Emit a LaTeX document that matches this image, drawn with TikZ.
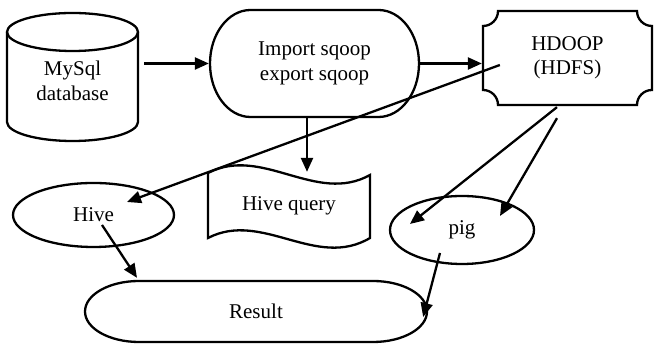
\documentclass[tikz,border=0pt]{standalone}
\usepackage{fontspec}
\setmainfont{Liberation Serif}
\usepackage{tikz}
\usetikzlibrary{shapes,arrows,arrows.meta,positioning,calc}

\begin{document}
\begin{tikzpicture}[x=1pt, y=1pt, line width=2.3pt,
    every node/.style={font=\fontsize{21}{24.5}\selectfont, align=center, inner sep=0pt},
    arr/.style={-{Triangle[length=14pt, width=12pt]}}]
    \useasboundingbox (0,0) rectangle (654,344);

    % Nodes
    \node[minimum width=131pt, minimum height=127pt] (mysql) at (72.5,263) {MySql\\database};
    \node[minimum width=209pt, minimum height=107pt] (import) at (314.5,280.5) {Import sqoop\\export sqoop};
    \node[minimum width=169pt, minimum height=94pt] (hdfs) at (567.5,286) {HDOOP\\(HDFS)};
    \node[minimum width=162pt, minimum height=65pt] (query) at (289,138.5) {Hive query};
    \node[ellipse, draw, minimum width=161pt, minimum height=64pt] (hive) at (93.5,129) {Hive};
    \node[ellipse, draw, minimum width=144pt, minimum height=68pt] (pig) at (462,114) {pig};
    \node[minimum width=342pt, minimum height=61pt] (result) at (256,32.5) {Result};

    % Outlines
    \draw (72.5,312) ellipse[x radius=65.5, y radius=19];
    \draw (7,312) -- (7,222) arc[start angle=180, end angle=360, x radius=65.5, y radius=19] -- (138,312);
    \draw (250.5,334) -- (378.5,334) arc[start angle=90, end angle=-90, x radius=40.5, y radius=53.5]
        -- (250.5,227) arc[start angle=270, end angle=90, x radius=40.5, y radius=53.5] -- cycle;
    \draw (498,333) -- (637,333) .. controls (637,324.7) and (643.7,318) .. (652,318)
        -- (652,254) .. controls (643.7,254) and (637,247.3) .. (637,239)
        -- (498,239) .. controls (498,247.3) and (491.3,254) .. (483,254)
        -- (483,318) .. controls (491.3,318) and (498,324.7) .. (498,333) -- cycle;
    \draw (208,171) .. controls (262,199) and (316,139) .. (370,169)
        -- (370,106) .. controls (316,74) and (262,134) .. (208,106) -- cycle;
    \draw (139,63) -- (373,63) arc[start angle=90, end angle=-90, x radius=54, y radius=30.5]
        -- (139,2) arc[start angle=270, end angle=90, x radius=54, y radius=30.5] -- cycle;

    % Connectors
    \draw[arr, shorten <=5pt] (mysql.east |- import.west) -- (import.west);
    \draw[arr] (import.east) -- (hdfs.west |- import.east);
    \draw[arr] ($(import.south)+(-7.5,0)$) -- ($(query.north)+(18,0)$);
    \draw[arr] ($(hdfs.west)+(18,-7)$) -- ($(hive.center)+(33.5,13)$);
    \draw[arr] ($(hdfs.south)+(-10.5,-1)$) -- ($(pig.center)+(-52,6)$);
    \draw[arr] ($(hdfs.south)+(-10.5,-12)$) -- ($(pig.center)+(38,14)$);
    \draw[arr] ($(hive.center)+(8.5,-10)$) -- ($(result.north)+(-119,2)$);
    \draw[arr] ($(pig.center)+(-22,-23)$) -- ($(result.east)+(-5,-5.5)$);
\end{tikzpicture}
\end{document}
